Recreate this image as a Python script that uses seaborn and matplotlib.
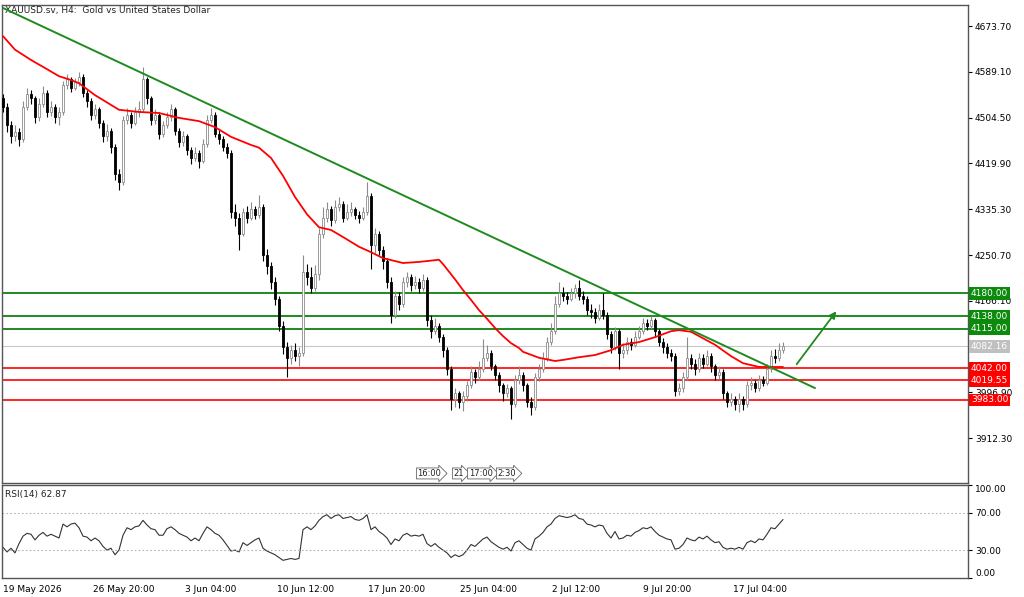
import numpy as np
import pandas as pd
import seaborn as sns
import matplotlib.pyplot as plt
from matplotlib.transforms import blended_transform_factory

sns.set_style('white')
plt.rcParams['font.family'] = ['DejaVu Sans']

# H4 candles (open of each bar = previous close)
first_open = 4540
closes = [4525, 4490, 4470, 4478, 4465, 4525, 4548, 4540, 4505, 4530,
          4550, 4515, 4525, 4505, 4515, 4565, 4575, 4560, 4570, 4580,
          4550, 4535, 4510, 4520, 4495, 4470, 4480, 4450, 4400, 4385,
          4500, 4510, 4495, 4515, 4520, 4575, 4540, 4500, 4510, 4475,
          4490, 4505, 4520, 4480, 4460, 4470, 4445, 4430, 4440, 4425,
          4455, 4500, 4510, 4475, 4465, 4450, 4440, 4330, 4320, 4290,
          4330, 4320, 4335, 4325, 4340, 4250, 4230, 4200, 4170, 4120,
          4080, 4060, 4075, 4065, 4070, 4220, 4210, 4190, 4215, 4290,
          4320, 4335, 4315, 4340, 4345, 4320, 4330, 4335, 4325, 4320,
          4330, 4360, 4270, 4290, 4260, 4240, 4200, 4140, 4175, 4160,
          4200, 4210, 4195, 4200, 4190, 4205, 4130, 4110, 4120, 4100,
          4075, 4040, 3985, 3995, 3980, 3990, 4010, 4035, 4025, 4040,
          4060, 4070, 4045, 4030, 4010, 3995, 4005, 3975, 4020, 4030,
          4010, 3980, 3970, 4025, 4040, 4060, 4090, 4110, 4160, 4180,
          4175, 4170, 4180, 4190, 4175, 4170, 4150, 4145, 4135, 4150,
          4140, 4105, 4080, 4110, 4070, 4075, 4090, 4085, 4100, 4110,
          4125, 4120, 4130, 4110, 4090, 4080, 4070, 4065, 4000, 4005,
          4025, 4060, 4050, 4040, 4060, 4050, 4065, 4045, 4030, 4035,
          3995, 3980, 3985, 3975, 3985, 3975, 4010, 4015, 4005, 4020,
          4015, 4040, 4065, 4060, 4075, 4082.16]
highs = [4548, 4532, 4498, 4490, 4485, 4535, 4560, 4556, 4545, 4540,
         4562, 4555, 4535, 4530, 4525, 4572, 4585, 4580, 4578, 4588,
         4585, 4556, 4540, 4530, 4525, 4500, 4492, 4485, 4455, 4410,
         4508, 4522, 4515, 4525, 4535, 4598, 4580, 4545, 4520, 4515,
         4498, 4515, 4530, 4525, 4485, 4480, 4475, 4450, 4450, 4445,
         4465, 4510, 4522, 4515, 4482, 4470, 4458, 4445, 4345, 4328,
         4338, 4342, 4348, 4342, 4362, 4345, 4262, 4238, 4210, 4175,
         4128, 4090, 4085, 4088, 4080, 4250, 4235, 4228, 4232, 4300,
         4340, 4348, 4342, 4352, 4358, 4350, 4345, 4348, 4340, 4332,
         4340, 4385, 4365, 4300, 4295, 4268, 4245, 4210, 4185, 4182,
         4210, 4220, 4215, 4212, 4208, 4215, 4210, 4140, 4135, 4125,
         4105, 4080, 4045, 4005, 4000, 4000, 4018, 4045, 4040, 4055,
         4095, 4085, 4075, 4050, 4035, 4015, 4012, 4008, 4030, 4045,
         4035, 4015, 3988, 4032, 4050, 4072, 4100, 4125, 4175, 4200,
         4192, 4182, 4190, 4198, 4205, 4185, 4175, 4160, 4152, 4160,
         4180, 4145, 4110, 4118, 4115, 4088, 4100, 4098, 4110, 4120,
         4135, 4132, 4138, 4135, 4115, 4098, 4088, 4078, 4070, 4015,
         4035, 4100, 4068, 4058, 4070, 4068, 4075, 4070, 4050, 4045,
         4040, 4000, 3995, 3990, 3995, 3990, 4018, 4025, 4020, 4030,
         4028, 4050, 4075, 4078, 4088, 4090]
lows = [4515, 4478, 4458, 4462, 4452, 4460, 4518, 4530, 4495, 4498,
        4525, 4505, 4508, 4495, 4490, 4510, 4558, 4552, 4555, 4562,
        4542, 4525, 4500, 4502, 4485, 4460, 4462, 4440, 4390, 4370,
        4380, 4492, 4485, 4490, 4505, 4515, 4530, 4490, 4492, 4465,
        4468, 4485, 4498, 4472, 4450, 4452, 4435, 4418, 4425, 4412,
        4420, 4450, 4495, 4468, 4455, 4442, 4430, 4320, 4305, 4260,
        4285, 4310, 4315, 4318, 4320, 4240, 4215, 4188, 4158, 4110,
        4068, 4025, 4050, 4055, 4045, 4065, 4195, 4180, 4185, 4205,
        4282, 4312, 4305, 4310, 4332, 4312, 4315, 4322, 4318, 4310,
        4315, 4325, 4225, 4255, 4250, 4225, 4190, 4125, 4135, 4150,
        4155, 4192, 4185, 4188, 4180, 4185, 4120, 4098, 4105, 4090,
        4062, 4030, 3965, 3970, 3968, 3962, 3982, 4005, 4015, 4020,
        4035, 4055, 4038, 4020, 3998, 3982, 3988, 3948, 3970, 4012,
        4000, 3970, 3955, 3965, 4018, 4035, 4055, 4085, 4105, 4155,
        4165, 4160, 4165, 4172, 4168, 4160, 4140, 4135, 4125, 4130,
        4132, 4095, 4070, 4075, 4040, 4060, 4068, 4075, 4080, 4095,
        4105, 4112, 4115, 4100, 4082, 4070, 4060, 4055, 3990, 3992,
        3998, 4020, 4040, 4030, 4035, 4042, 4045, 4035, 4020, 4022,
        3985, 3970, 3972, 3965, 3960, 3965, 3970, 4002, 3998, 4000,
        4008, 4010, 4035, 4052, 4055, 4070]

# red moving average, read at selected bars
ma_bar = [0, 3, 7, 11, 14, 17, 19, 23, 29, 34,
          39, 44, 49, 53, 57, 62, 64, 67, 70, 72,
          73, 76, 79, 82, 85, 89, 92, 95, 100, 104,
          109, 110, 113, 115, 117, 119, 121, 123, 125, 127,
          129, 130, 134, 138, 140, 144, 148, 152, 155, 159,
          163, 167, 169, 172, 174, 178, 182, 185, 189, 192, 195]
ma_vals = [4655, 4630, 4611, 4594, 4581, 4574, 4568, 4546, 4519, 4515,
           4513, 4504, 4498, 4487, 4469, 4454, 4449, 4430, 4397, 4371,
           4358, 4326, 4302, 4297, 4284, 4266, 4256, 4245, 4236, 4238,
           4242, 4234, 4206, 4186, 4168, 4149, 4133, 4116, 4101, 4088,
           4079, 4072, 4061, 4055, 4057, 4062, 4066, 4075, 4085, 4090,
           4099, 4110, 4112, 4109, 4101, 4085, 4064, 4051, 4044, 4044, 4044]

rsi_vals = [33, 28, 32, 27, 37, 45, 48, 47, 41, 46,
            49, 45, 47, 45, 43, 58, 55, 58, 59, 54,
            45, 44, 40, 43, 40, 34, 30, 32, 25, 30,
            46, 54, 52, 55, 56, 62, 57, 53, 52, 46,
            46, 53, 55, 52, 48, 46, 44, 40, 43, 40,
            48, 55, 52, 48, 46, 41, 35, 29, 30, 28,
            38, 35, 38, 41, 43, 32, 29, 27, 25, 22,
            19, 20, 21, 20, 21, 52, 55, 52, 56, 62,
            66, 68, 64, 67, 68, 64, 65, 66, 63, 62,
            64, 68, 52, 55, 50, 47, 43, 36, 42, 40,
            46, 48, 45, 46, 45, 47, 37, 34, 37, 33,
            30, 27, 22, 25, 23, 25, 30, 36, 34, 38,
            42, 44, 39, 36, 33, 31, 33, 29, 38, 40,
            36, 32, 30, 42, 45, 49, 55, 58, 64, 67,
            66, 65, 66, 68, 64, 63, 58, 57, 55, 57,
            56, 48, 43, 50, 42, 43, 46, 45, 49, 51,
            54, 53, 55, 50, 46, 44, 42, 41, 31, 32,
            36, 43, 41, 40, 44, 42, 45, 41, 38, 39,
            33, 31, 32, 31, 33, 31, 38, 40, 38, 42,
            41, 47, 54, 53, 58, 62.87]

green_levels = [4180.00, 4138.00, 4115.00]
red_levels = [4042.00, 4019.55, 3983.00]
last_price = 4082.16
trend_bar = [0, 203]
trend_vals = [4707, 4005]
arrow_bar = [198, 208.75]
arrow_vals = [4045, 4151]
price_ticks = [4673.70, 4589.10, 4504.50, 4419.90, 4335.30, 4250.70,
               4166.10, 3996.90, 3912.30]
rsi_ticks = [0, 30, 70, 100]
time_labels = ['19 May 2026', '26 May 20:00', '3 Jun 04:00', '10 Jun 12:00',
               '17 Jun 20:00', '25 Jun 04:00', '2 Jul 12:00', '9 Jul 20:00',
               '17 Jul 04:00']
vline_labels = ['16:00', '21', '17:00', '2:30']

# ---- layout ----
time_pos = [0, 22.5, 45.5, 68.5, 91.25, 114.25, 137.25, 160, 182.5]
vline_pos = [103.6, 112.6, 116.4, 123.6]
GREEN = '#1f8a1f'
RED = '#ff0000'
SPINE = '#555555'

n = len(closes)
bars = np.arange(n)
c = np.array(closes, dtype=float)
o = np.array([first_open] + closes[:-1], dtype=float)
h = np.array(highs, dtype=float)
l = np.array(lows, dtype=float)
up = c >= o

fig = plt.figure(figsize=(10.24, 5.97), dpi=100)
ax = fig.add_axes([2 / 1024, 1 - 483 / 597, 966 / 1024, 478 / 597])
ax2 = fig.add_axes([2 / 1024, 1 - 578 / 597, 966 / 1024, 93 / 597])

# candles
ax.vlines(bars[up], l[up], h[up], color='#8c8c8c', lw=0.8, zorder=3)
ax.vlines(bars[~up], l[~up], h[~up], color='black', lw=0.8, zorder=3)
ax.bar(bars[up], np.maximum(c[up] - o[up], 1.5), bottom=o[up], width=0.62,
       color='white', edgecolor='#8c8c8c', linewidth=0.6, zorder=4)
ax.bar(bars[~up], np.maximum(o[~up] - c[~up], 1.5), bottom=c[~up], width=0.62,
       color='black', edgecolor='black', linewidth=0.6, zorder=4)

# levels
for lv in green_levels:
    ax.axhline(lv, color=GREEN, lw=1.4, zorder=2)
for lv in red_levels:
    ax.axhline(lv, color=RED, lw=1.2, zorder=2)
ax.axhline(last_price, color='#c8c8c8', lw=0.8, zorder=1)

# moving average and trend line
ma_df = pd.DataFrame({'bar': ma_bar, 'ma': ma_vals})
sns.lineplot(data=ma_df, x='bar', y='ma', ax=ax, color=RED, lw=1.3, zorder=5)
ax.plot(trend_bar, trend_vals, color=GREEN, lw=1.4, zorder=5)
ax.annotate('', xy=(arrow_bar[1], arrow_vals[1]), xytext=(arrow_bar[0], arrow_vals[0]),
            arrowprops=dict(arrowstyle='-|>', color=GREEN, lw=1.3, mutation_scale=10),
            zorder=6)

ax.set_xlim(-0.25, 241.25)
ax.set_ylim(3829.7, 4712.5)
ax.set_xticks([])
ax.set_xlabel('')
ax.set_ylabel('')
ax.yaxis.tick_right()
ax.set_yticks(price_ticks)
ax.set_yticklabels([f'{v:.2f}' for v in price_ticks])
ax.tick_params(axis='y', direction='out', length=3, width=0.8, pad=2,
               labelsize=6.5, colors='black')
for sp in ax.spines.values():
    sp.set_color(SPINE)
    sp.set_linewidth(1)

ax.text(0.003, 0.997, 'XAUUSD.sv, H4:  Gold vs United States Dollar',
        transform=ax.transAxes, ha='left', va='top', fontsize=6.5, color='#222222')

# price boxes on the right axis
trans = blended_transform_factory(ax.transAxes, ax.transData)
for lv in green_levels:
    ax.text(1.003, lv, f'{lv:.2f}', transform=trans, ha='left', va='center',
            fontsize=6.5, color='white', clip_on=False, zorder=10,
            bbox=dict(boxstyle='square,pad=0.2', fc='#0b8a0b', ec='none'))
for lv in red_levels:
    ax.text(1.003, lv, f'{lv:.2f}', transform=trans, ha='left', va='center',
            fontsize=6.5, color='white', clip_on=False, zorder=10,
            bbox=dict(boxstyle='square,pad=0.2', fc='#ff0000', ec='none'))
ax.text(1.003, last_price, f'{last_price:.2f}', transform=trans, ha='left', va='center',
        fontsize=6.5, color='white', clip_on=False, zorder=10,
        bbox=dict(boxstyle='square,pad=0.2', fc='#c0c0c0', ec='none'))

# vertical line labels at the bottom of the price window
vtrans = blended_transform_factory(ax.transData, ax.transAxes)
for pos, lab in zip(vline_pos, vline_labels):
    ax.text(pos, 0.02, lab, transform=vtrans, ha='left', va='center', fontsize=6,
            color='#222222', zorder=10,
            bbox=dict(boxstyle='rarrow,pad=0.12', fc='white', ec='#666666', lw=0.6))

# RSI window
rsi_df = pd.DataFrame({'bar': bars, 'rsi': rsi_vals})
sns.lineplot(data=rsi_df, x='bar', y='rsi', ax=ax2, color='#333333', lw=0.8)
for lv in [70, 30]:
    ax2.axhline(lv, color='#b4b4b4', lw=0.8, ls=(0, (1.5, 2)))
ax2.set_xlim(-0.25, 241.25)
ax2.set_ylim(0, 100)
ax2.set_xlabel('')
ax2.set_ylabel('')
ax2.yaxis.tick_right()
ax2.set_yticks(rsi_ticks)
ax2.set_yticklabels([f'{v:.2f}' for v in rsi_ticks])
ylabs = ax2.get_yticklabels()
ylabs[0].set_va('bottom')
ylabs[-1].set_va('top')
ax2.tick_params(axis='y', direction='out', length=3, width=0.8, pad=2,
                labelsize=6.5, colors='black')
ax2.set_xticks(time_pos)
ax2.set_xticklabels(time_labels, ha='left')
ax2.tick_params(axis='x', direction='out', length=3, width=0.8, pad=2,
                labelsize=6.5, colors='black')
for sp in ax2.spines.values():
    sp.set_color(SPINE)
    sp.set_linewidth(1)
ax2.text(0.003, 0.95, 'RSI(14) 62.87', transform=ax2.transAxes, ha='left', va='top',
         fontsize=6.5, color='#222222')

fig.savefig('out.png', dpi=100)
plt.close(fig)
